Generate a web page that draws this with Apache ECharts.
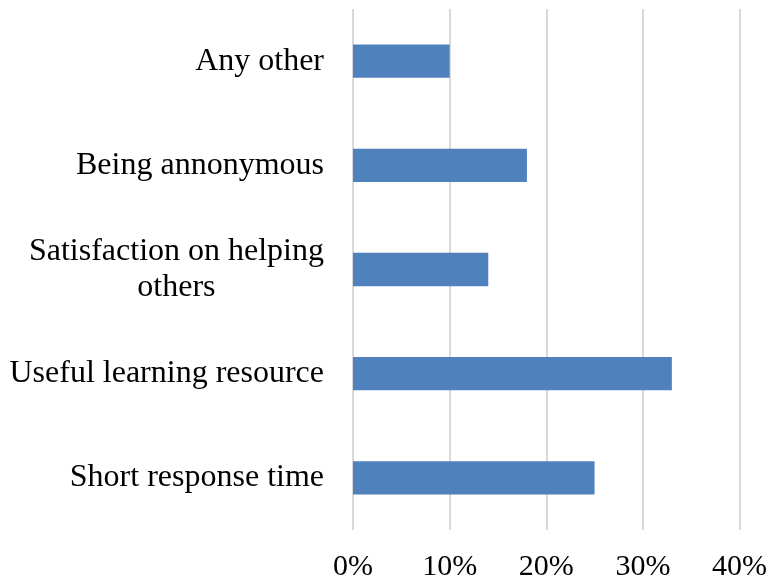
<!DOCTYPE html>
<html>
<head>
<meta charset="utf-8">
<script src="https://cdn.jsdelivr.net/npm/echarts@6/dist/echarts.min.js"></script>
<style>
  html, body { margin: 0; padding: 0; background: #fff; }
  #chart { width: 770px; height: 583px; }
</style>
</head>
<body>
<div id="chart"></div>
<script>
// top to bottom
var categories = [
  "Any other",
  "Being annonymous",
  "Satisfaction on helping\nothers",
  "Useful learning resource",
  "Short response time"
];
var values = [10, 18, 14, 33, 25];
var xTicks = [0, 10, 20, 30, 40];

var chart = echarts.init(document.getElementById("chart"));
var option = {
  animation: false,
  grid: {
    left: 353,
    right: 28,
    top: 9,
    bottom: 53,
  },
  xAxis: {
    type: "value",
    min: xTicks[0],
    max: xTicks[xTicks.length - 1],
    interval: 10,
    axisLine: { show: false },
    axisTick: { show: false },
    axisLabel: {
      formatter: "{value}%",
      color: "#000",
      fontFamily: "Liberation Serif",
      fontSize: 30,
      margin: 22,
    },
    splitLine: {
      lineStyle: { color: "#d9d9d9", width: 2 },
    },
  },
  yAxis: {
    type: "category",
    inverse: true,
    data: categories,
    axisLine: { show: false },
    axisTick: { show: false },
    axisLabel: {
      color: "#000",
      fontFamily: "Liberation Serif",
      fontSize: 32,
      margin: 29,
      formatter: function (v) {
        return v.split("\n").map(function (s) { return "{c|" + s + "}"; }).join("\n");
      },
      rich: {
        c: {
          align: "center",
          color: "#000",
          fontFamily: "Liberation Serif",
          fontSize: 32,
          lineHeight: 36,
        },
      },
    },
  },
  series: [
    {
      type: "bar",
      data: values,
      barWidth: "32%",
      itemStyle: { color: "#4f81bd" },
    },
  ],
};
chart.setOption(option);
</script>
</body>
</html>
